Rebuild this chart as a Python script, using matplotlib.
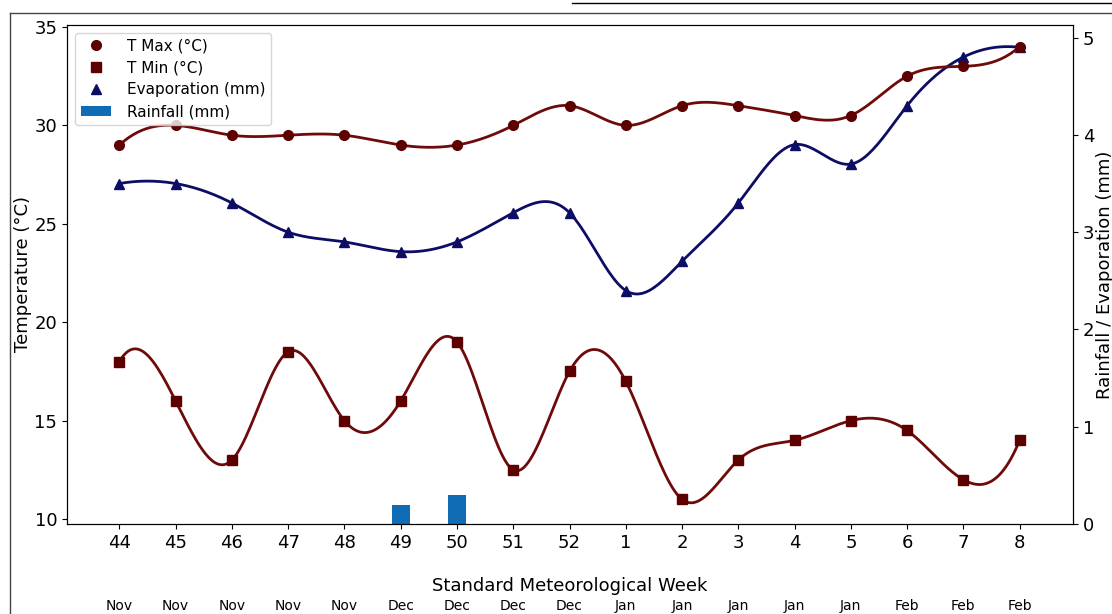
import numpy as np
import matplotlib
matplotlib.use("Agg")
import matplotlib.pyplot as plt
from matplotlib.lines import Line2D
from matplotlib.transforms import blended_transform_factory

weeks = ["44", "45", "46", "47", "48", "49", "50", "51", "52", "1", "2", "3", "4", "5", "6", "7", "8"]
months = ["Nov", "Nov", "Nov", "Nov", "Nov", "Dec", "Dec", "Dec", "Dec", "Jan", "Jan", "Jan", "Jan", "Jan", "Feb", "Feb", "Feb"]
t_max = [29, 30, 29.5, 29.5, 29.5, 29, 29, 30, 31, 30, 31, 31, 30.5, 30.5, 32.5, 33, 34]
t_min = [18, 16, 13, 18.5, 15, 16, 19, 12.5, 17.5, 17, 11, 13, 14, 15, 14.5, 12, 14]
evaporation = [3.5, 3.5, 3.3, 3.0, 2.9, 2.8, 2.9, 3.2, 3.2, 2.4, 2.7, 3.3, 3.9, 3.7, 4.3, 4.8, 4.9]
rainfall = [0, 0, 0, 0, 0, 0.2, 0.3, 0, 0, 0, 0, 0, 0, 0, 0, 0, 0]


def spline_curve(x, y, num=400):
    """Not-a-knot cubic spline through the points (smooth rendering)."""
    x = np.asarray(x, float)
    y = np.asarray(y, float)
    n = len(x) - 1
    A = np.zeros((4 * n, 4 * n))
    b = np.zeros(4 * n)
    r = 0
    for i in range(n):
        h = x[i + 1] - x[i]
        A[r, 4 * i] = 1; b[r] = y[i]; r += 1
        A[r, 4 * i:4 * i + 4] = [1, h, h ** 2, h ** 3]; b[r] = y[i + 1]; r += 1
    for i in range(n - 1):
        h = x[i + 1] - x[i]
        A[r, 4 * i:4 * i + 4] = [0, 1, 2 * h, 3 * h ** 2]
        A[r, 4 * (i + 1) + 1] = -1; r += 1
        A[r, 4 * i:4 * i + 4] = [0, 0, 2, 6 * h]
        A[r, 4 * (i + 1) + 2] = -2; r += 1
    A[r, 3] = 1; A[r, 7] = -1; r += 1
    A[r, 4 * (n - 2) + 3] = 1; A[r, 4 * (n - 1) + 3] = -1; r += 1
    coef = np.linalg.solve(A, b).reshape(n, 4)
    xs = np.linspace(x[0], x[-1], num)
    idx = np.clip(np.searchsorted(x, xs, side="right") - 1, 0, n - 1)
    t = xs - x[idx]
    c = coef[idx]
    ys = c[:, 0] + c[:, 1] * t + c[:, 2] * t ** 2 + c[:, 3] * t ** 3
    return xs, ys


x = np.arange(len(weeks))

fig = plt.figure(figsize=(11.12, 6.14), dpi=100)
ax = fig.add_axes([0.0603, 0.1466, 0.9047, 0.8127])
ax2 = ax.twinx()

red_line = "#6e0a0a"
red_mark = "#5c0000"
navy = "#0d0d66"
bar_col = "#106cb5"

ax2.bar(x, rainfall, width=0.32, color=bar_col, label="Rainfall (mm)", zorder=1)

xs, ys = spline_curve(x, t_max)
ax.plot(xs, ys, color=red_line, lw=2, zorder=3)
ax.plot(x, t_max, "o", color=red_mark, ms=7, label="T Max (°C)", zorder=4)

xs, ys = spline_curve(x, t_min)
ax.plot(xs, ys, color=red_line, lw=2, zorder=3)
ax.plot(x, t_min, "s", color=red_mark, ms=7, label="T Min (°C)", zorder=4)

xs, ys = spline_curve(x, evaporation)
ax2.plot(xs, ys, color=navy, lw=2, zorder=3)
ax2.plot(x, evaporation, "^", color=navy, ms=7, label="Evaporation (mm)", zorder=4)

ax.set_xlim(-0.93, 16.95)
ax.set_ylim(9.75, 35.1)
ax2.set_ylim(0, 5.13)
ax.set_xticks(x)
ax.set_xticklabels(weeks)
ax.set_yticks([10, 15, 20, 25, 30, 35])
ax2.set_yticks([0, 1, 2, 3, 4, 5])
ax.tick_params(labelsize=13)
ax2.tick_params(labelsize=13)

ax.set_ylabel("Temperature (°C)", fontsize=13, labelpad=2)
ax2.set_ylabel("Rainfall / Evaporation (mm)", fontsize=13, labelpad=1)
ax.set_xlabel("Standard Meteorological Week", fontsize=13, labelpad=18)

trans = blended_transform_factory(ax.transData, fig.transFigure)
for xi, m in zip(x, months):
    ax.text(xi, 1 - 606 / 614, m, transform=trans, ha="center", va="center", fontsize=10)

ax.set_zorder(ax2.get_zorder() + 1)
ax.patch.set_visible(False)

h1, l1 = ax.get_legend_handles_labels()
h2, l2 = ax2.get_legend_handles_labels()
lab_map = dict(zip(l1 + l2, h1 + h2))
labels = ["T Max (°C)", "T Min (°C)", "Evaporation (mm)", "Rainfall (mm)"]
handles = [lab_map[l] for l in labels]
ax.legend(handles, labels, loc="upper left", fontsize=11, framealpha=0.8,
          labelspacing=0.45, handletextpad=1.0)

W, H = 1112, 614
def fline(x0, y0, x1, y1, color="black", lw=1.0):
    fig.add_artist(Line2D([x0 / W, x1 / W], [1 - y0 / H, 1 - y1 / H],
                          transform=fig.transFigure, color=color, lw=lw))
fline(10, 13, W, 13, color="#444444", lw=1.0)
fline(10, 13, 10, H, color="#444444", lw=1.0)
fline(572, 3, W, 3, color="black", lw=1.0)

fig.savefig("out.png", dpi=100)
